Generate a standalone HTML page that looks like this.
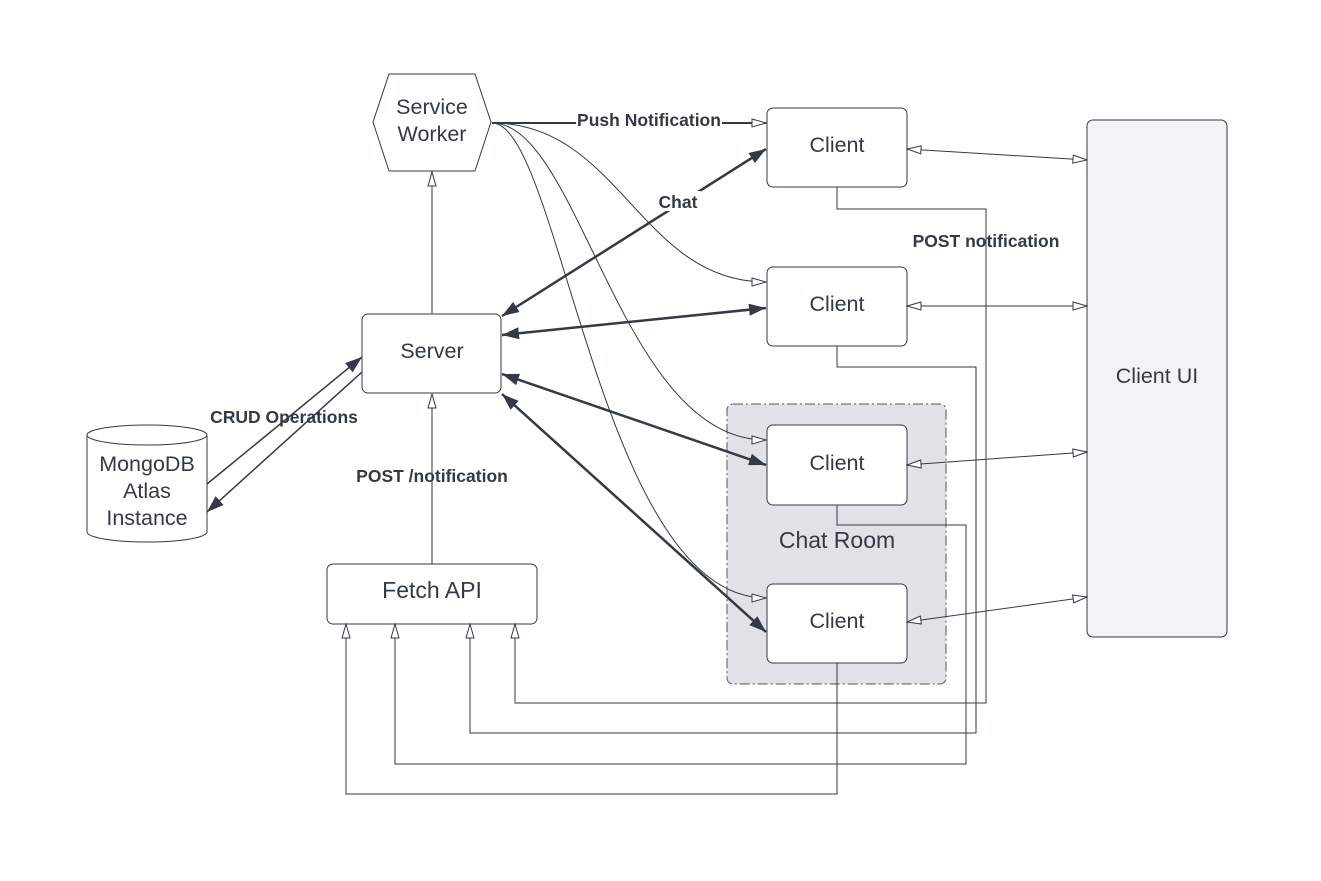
<!DOCTYPE html>
<html><head><meta charset="utf-8"><style>
body{margin:0;background:#fff}
svg{display:block;font-family:"Liberation Sans",sans-serif}
</style></head><body>
<svg width="1321" height="881" viewBox="0 0 1321 881">
<defs>
<marker id="o" markerWidth="16" markerHeight="12" refX="15" refY="6" orient="auto" markerUnits="userSpaceOnUse"><path d="M1,2 L15,6 L1,10 Z" fill="#fff" stroke="#333a45" stroke-width="1"/></marker>
<marker id="os" markerWidth="16" markerHeight="12" refX="1" refY="6" orient="auto" markerUnits="userSpaceOnUse"><path d="M15,2 L1,6 L15,10 Z" fill="#fff" stroke="#333a45" stroke-width="1"/></marker>
<marker id="f" markerWidth="18" markerHeight="14" refX="17" refY="7" orient="auto" markerUnits="userSpaceOnUse"><path d="M0,1 L17,7 L0,13 Z" fill="#333a45"/></marker>
<marker id="fs" markerWidth="18" markerHeight="14" refX="1" refY="7" orient="auto" markerUnits="userSpaceOnUse"><path d="M18,1 L1,7 L18,13 Z" fill="#333a45"/></marker>
</defs>
<g fill="none" stroke="#333a45">
<rect x="727" y="404" width="219" height="280" rx="6" fill="#e0e2e7" stroke="#555" stroke-dasharray="10,3,2,3"/>
<rect x="1087" y="120" width="140" height="517" rx="6" fill="#f2f3f5"/>
<rect x="767" y="108" width="140" height="79" rx="6" fill="#fff"/>
<rect x="767" y="267" width="140" height="79" rx="6" fill="#fff"/>
<rect x="767" y="425" width="140" height="80" rx="6" fill="#fff"/>
<rect x="767" y="584" width="140" height="79" rx="6" fill="#fff"/>
<rect x="362" y="314" width="139" height="79" rx="6" fill="#fff"/>
<rect x="327" y="564" width="210" height="60" rx="6" fill="#fff"/>
<path d="M373,122 L389,74 L475,74 L491,122 L475,171 L389,171 Z" fill="#fff" stroke-linejoin="round"/>
<path d="M87,435 A60,10 0 0 1 207,435 L207,532 A60,10 0 0 1 87,532 Z" fill="#fff"/>
<path d="M87,435 A60,10 0 0 0 207,435"/>
<path d="M492,123 L766,123" marker-end="url(#o)" stroke-width="2"/>
<path d="M492,123 C620,123 640,282 766,282" marker-end="url(#o)"/>
<path d="M492,123 C580,123 620,440 766,440" marker-end="url(#o)"/>
<path d="M492,123 C560,123 600,598 766,598" marker-end="url(#o)"/>
<path d="M432,314 L432,172" marker-end="url(#o)"/>
<path d="M432,564 L432,394" marker-end="url(#o)"/>
<g stroke-width="2.5">
<path d="M502,316 L766,149" marker-start="url(#fs)" marker-end="url(#f)"/>
<path d="M502,335 L766,308" marker-start="url(#fs)" marker-end="url(#f)"/>
<path d="M502,374 L766,465" marker-start="url(#fs)" marker-end="url(#f)"/>
<path d="M502,394 L766,632" marker-start="url(#fs)" marker-end="url(#f)"/>
</g>
<g stroke-width="1.5">
<path d="M207,484 L362,357" marker-end="url(#f)"/>
<path d="M362,372 L207,512" marker-end="url(#f)"/>
</g>
<path d="M907,149 L1087,160" marker-start="url(#os)" marker-end="url(#o)"/>
<path d="M907,306 L1087,306" marker-start="url(#os)" marker-end="url(#o)"/>
<path d="M907,465 L1087,452" marker-start="url(#os)" marker-end="url(#o)"/>
<path d="M907,622 L1087,597" marker-start="url(#os)" marker-end="url(#o)"/>
<path d="M837,187 V209 H986 V703 H515 V624" marker-end="url(#o)"/>
<path d="M837,346 V367 H976 V733 H470 V624" marker-end="url(#o)"/>
<path d="M837,505 V525 H966 V764 H395 V624" marker-end="url(#o)"/>
<path d="M837,663 V794 H346 V624" marker-end="url(#o)"/>
</g>
<g font-size="17.5" font-weight="bold" fill="#333a45" text-anchor="middle">
<rect x="576" y="110" width="146" height="20" fill="#fff"/>
<text x="649" y="126">Push Notification</text>
<rect x="655" y="191" width="46" height="20" fill="#fff"/>
<text x="678" y="208">Chat</text>
<text x="986" y="247">POST notification</text>
<text x="284" y="423">CRUD Operations</text>
<text x="432" y="482">POST /notification</text>
</g>
<g font-size="21.5" fill="#333a45" text-anchor="middle">
<text x="432" y="114">Service</text>
<text x="432" y="141">Worker</text>
<text x="432" y="358">Server</text>
<text x="432" y="598" font-size="23">Fetch API</text>
<text x="147" y="471">MongoDB</text>
<text x="147" y="498">Atlas</text>
<text x="147" y="525">Instance</text>
<text x="837" y="152">Client</text>
<text x="837" y="311">Client</text>
<text x="837" y="470">Client</text>
<text x="837" y="628">Client</text>
<text x="837" y="548" font-size="23">Chat Room</text>
<text x="1157" y="383">Client UI</text>
</g>
</svg>
</body></html>
